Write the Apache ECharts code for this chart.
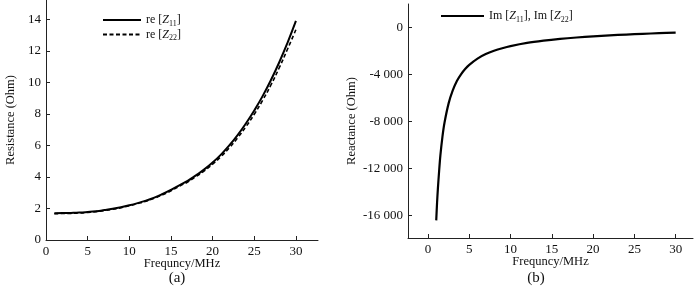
<!DOCTYPE html>
<html><head><meta charset="utf-8">
<script src="https://cdn.jsdelivr.net/npm/echarts@6/dist/echarts.min.js"></script>
<style>html,body{margin:0;padding:0;background:#fff}#c{width:700px;height:292px}</style>
</head><body><div id="c"></div>
<script>
// ---- data ----
const freqA = [1,2,3,4,5,6,7,8,9,10,11,12,13,14,15,16,17,18,19,20,21,22,23,24,25,26,27,28,29,30];
const reZ11 = [1.70,1.71,1.72,1.74,1.78,1.83,1.90,1.98,2.08,2.20,2.34,2.50,2.69,2.92,3.18,3.47,3.75,4.10,4.48,4.92,5.42,6.00,6.66,7.40,8.22,9.13,10.15,11.28,12.53,13.90];
const reZ22 = [1.67,1.68,1.69,1.71,1.75,1.80,1.87,1.95,2.05,2.17,2.31,2.46,2.65,2.87,3.12,3.41,3.68,4.02,4.39,4.81,5.29,5.85,6.48,7.19,7.98,8.86,9.84,10.93,12.12,13.35];
const freqB = [1,1.1,1.2,1.35,1.5,1.75,2,2.5,3,3.5,4,4.5,5,6,7,8,9,10,12,14,16,18,20,22,24,26,28,30];
const imZ = [-16400,-14900,-13700,-12200,-10900,-9300,-8100,-6450,-5350,-4550,-3980,-3530,-3170,-2640,-2260,-1980,-1760,-1580,-1310,-1120,-970,-850,-750,-670,-600,-540,-480,-430];
const xTicks = [0,5,10,15,20,25,30];
const yTicksA = [0,2,4,6,8,10,12,14];
const yTicksB = [0,-4000,-8000,-12000,-16000];
const yLabelsB = ['0','-4 000','-8 000','-12 000','-16 000'];

const font = 'Liberation Serif';
function tick(vals){ return {show:true,inside:true,length:4,lineStyle:{color:'#222'},customValues:vals}; }
function lab(vals, fmt){ const o={color:'#111',fontFamily:font,fontSize:13,margin:5,customValues:vals}; if(fmt) o.formatter=fmt; return o; }
const line = {show:true,onZero:false,lineStyle:{color:'#222',width:1}};
const nameStyle = {color:'#111',fontFamily:font,fontSize:12.5};

const rich = {
  t:{fontFamily:font,fontSize:12,color:'#111'},
  i:{fontFamily:font,fontSize:12,fontStyle:'italic',color:'#111'},
  s:{fontFamily:font,fontSize:8,color:'#111',padding:[7,0,0,0]}
};

const chart = echarts.init(document.getElementById('c'));
chart.setOption({
  animation:false,
  title:[
    {text:'(a)',left:177,top:271,padding:0,textAlign:'center',textStyle:{fontFamily:font,fontSize:15,fontWeight:'normal',color:'#111'}},
    {text:'(b)',left:536,top:271,padding:0,textAlign:'center',textStyle:{fontFamily:font,fontSize:15,fontWeight:'normal',color:'#111'}}
  ],
  legend:[
    {left:102,top:14,padding:0,orient:'vertical',itemWidth:38,itemHeight:10,itemGap:1,
     itemStyle:{opacity:0},
     data:['Z11','Z22'],
     formatter:n=> n==='Z11' ? '{t|re [}{i|Z}{s|11}{t|]}' : '{t|re [}{i|Z}{s|22}{t|]}',
     textStyle:{rich:rich}},
    {left:440,top:10,padding:0,itemWidth:43,itemHeight:10,data:['Im'],
     itemStyle:{opacity:0},
     formatter:()=>'{t|Im [}{i|Z}{s|11}{t|], Im [}{i|Z}{s|22}{t|]}',
     textStyle:{rich:rich}}
  ],
  grid:[
    {left:46,top:0,width:272,height:240},
    {left:408,top:4,width:285,height:234}
  ],
  xAxis:[
    {gridIndex:0,type:'value',min:0,max:32.65,name:'Frequncy/MHz',nameLocation:'middle',nameGap:17,nameMoveOverlap:false,
      nameTextStyle:nameStyle,axisLine:line,splitLine:{show:false},axisTick:tick(xTicks),axisLabel:lab(xTicks)},
    {gridIndex:1,type:'value',min:-2.42,max:32.1,name:'Frequncy/MHz',nameLocation:'middle',nameGap:17,nameMoveOverlap:false,
      nameTextStyle:nameStyle,axisLine:line,splitLine:{show:false},axisTick:tick(xTicks),axisLabel:lab(xTicks)}
  ],
  yAxis:[
    {gridIndex:0,type:'value',min:0,max:15.23,name:'Resistance (Ohm)',nameLocation:'middle',nameGap:29,nameMoveOverlap:false,
      nameTextStyle:nameStyle,axisLine:line,splitLine:{show:false},axisTick:tick(yTicksA),axisLabel:lab(yTicksA)},
    {gridIndex:1,type:'value',min:-17900,max:2000,name:'Reactance (Ohm)',nameLocation:'middle',nameGap:50,nameMoveOverlap:false,
      nameTextStyle:nameStyle,axisLine:line,splitLine:{show:false},axisTick:tick(yTicksB),
      axisLabel:lab(yTicksB, v=>{const k=yTicksB.indexOf(v);return k>=0?yLabelsB[k]:'';})}
  ],
  series:[
    {name:'Z11',type:'line',xAxisIndex:0,yAxisIndex:0,data:freqA.map((f,i)=>[f,reZ11[i]]),
     symbol:'none',smooth:true,lineStyle:{color:'#000',width:2}},
    {name:'Z22',type:'line',xAxisIndex:0,yAxisIndex:0,data:freqA.map((f,i)=>[f,reZ22[i]]),
     symbol:'none',smooth:true,lineStyle:{color:'#000',width:1.6,type:[4,2.5]}},
    {name:'Im',type:'line',xAxisIndex:1,yAxisIndex:1,data:freqB.map((f,i)=>[f,imZ[i]]),
     symbol:'none',smooth:0.3,lineStyle:{color:'#000',width:2.2}}
  ]
});
</script></body></html>
